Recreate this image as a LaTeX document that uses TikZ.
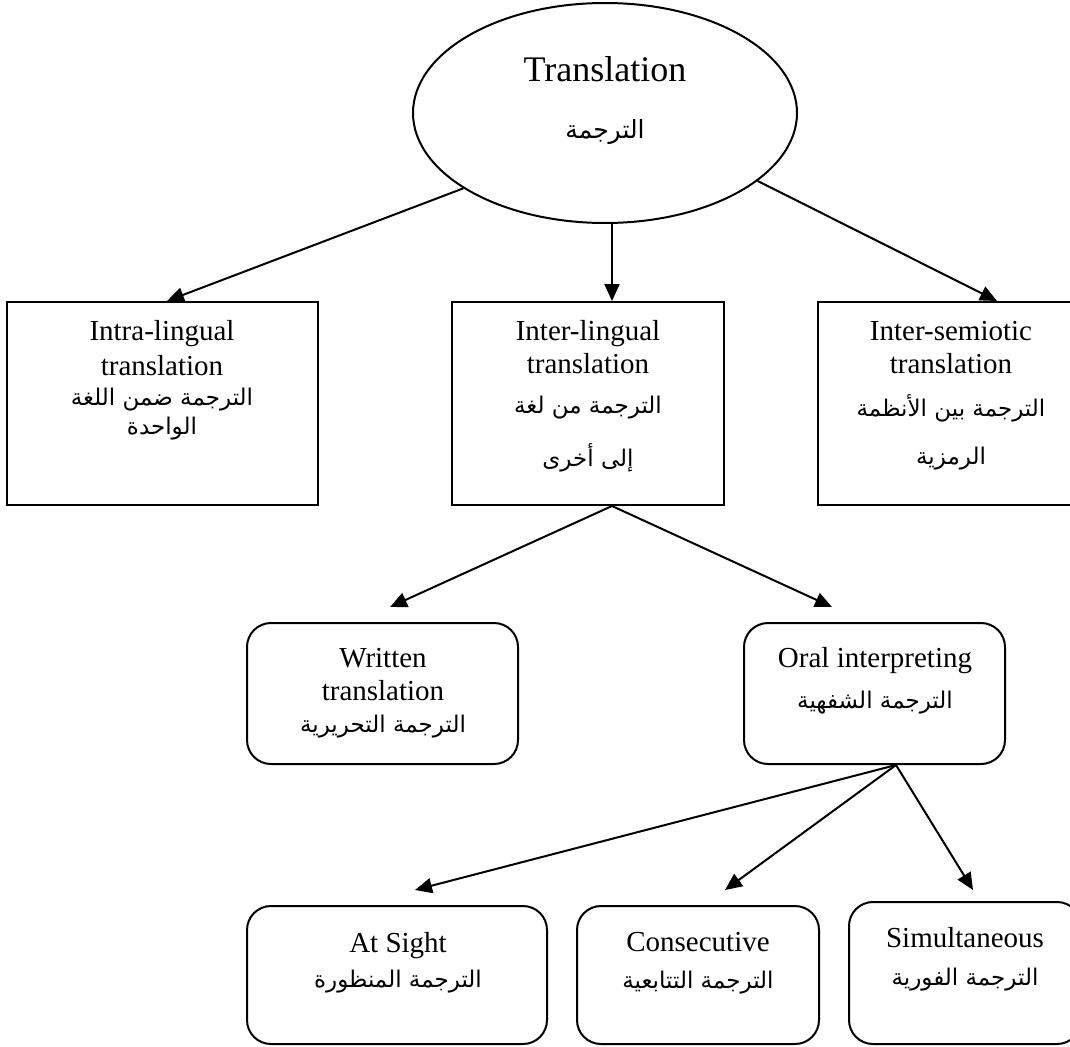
\documentclass[tikz,border=0pt]{standalone}
\usepackage{fontspec}
\setmainfont{Liberation Serif}
\newfontfamily\arabicfont[Script=Arabic]{DejaVu Sans}
\TeXXeTstate=1
\usetikzlibrary{arrows.meta,shapes.geometric}
\begin{document}
\begin{tikzpicture}[x=1pt,y=-1pt,
  box/.style={draw, line width=2pt, inner sep=0pt},
  rbox/.style={box, rounded corners=24pt},
  arr/.style={line width=2pt, -{Triangle[length=17pt,width=15pt]}},
  en/.style={anchor=base, inner sep=0pt, font=\fontsize{29}{33}\selectfont},
  ar/.style={anchor=center, inner sep=0pt, font=\arabicfont\fontsize{23}{28}\selectfont}]
\useasboundingbox (0,0) rectangle (1070,1046);
\clip (0,0) rectangle (1070,1046);
% root
\node[draw, ellipse, line width=2pt, inner sep=0pt, minimum width=384pt, minimum height=220pt] (tr) at (605,113) {};
\node[anchor=base, inner sep=0pt, font=\fontsize{36}{40}\selectfont] (trE) at (605,82) {Translation};
\node[anchor=center, inner sep=0pt, font=\arabicfont\fontsize{25}{30}\selectfont] (trA) at (605,132) {\beginR الترجمة\endR};
% level 1
\node[box, minimum width=311pt, minimum height=203pt] (b1) at (162.5,403.5) {};
\node[box, minimum width=272pt, minimum height=203pt] (b2) at (588,403.5) {};
\node[box, minimum width=266pt, minimum height=203pt] (b3) at (951,403.5) {};
\node[en] (b1e1) at (162,340) {Intra-lingual};
\node[en] (b1e2) at (162,375) {translation};
\node[ar] (b1a1) at (162,400) {\beginR الترجمة ضمن اللغة\endR};
\node[ar] (b1a2) at (162,429) {\beginR الواحدة\endR};
\node[en] (b2e1) at (588,340) {Inter-lingual};
\node[en] (b2e2) at (588,373) {translation};
\node[ar] (b2a1) at (588,408) {\beginR الترجمة من لغة\endR};
\node[ar] (b2a2) at (588,458) {\beginR إلى أخرى\endR};
\node[en] (b3e1) at (951,340) {Inter-semiotic};
\node[en] (b3e2) at (951,373) {translation};
\node[ar] (b3a1) at (951,408) {\beginR الترجمة بين الأنظمة\endR};
\node[ar] (b3a2) at (951,459) {\beginR الرمزية\endR};
% level 2
\node[rbox, minimum width=271pt, minimum height=141pt] (w) at (382.5,693.5) {};
\node[rbox, minimum width=261pt, minimum height=141pt] (o) at (874.5,693.5) {};
\node[en] (we1) at (383,667) {Written};
\node[en] (we2) at (383,700) {translation};
\node[ar] (wa) at (383,727) {\beginR الترجمة التحريرية\endR};
\node[en] (oe) at (875,667) {Oral interpreting};
\node[ar] (oa) at (875,703) {\beginR الترجمة الشفهية\endR};
% level 3
\node[rbox, minimum width=300pt, minimum height=138pt] (s1) at (397,975) {};
\node[rbox, minimum width=242pt, minimum height=138pt] (s2) at (698,975) {};
\node[rbox, minimum width=232pt, minimum height=142pt] (s3) at (965,973) {};
\node[en] (s1e) at (398,952) {At Sight};
\node[ar] (s1a) at (398,982) {\beginR الترجمة المنظورة\endR};
\node[en] (s2e) at (698,951) {Consecutive};
\node[ar] (s2a) at (698,983) {\beginR الترجمة التتابعية\endR};
\node[en] (s3e) at (965,947) {Simultaneous};
\node[ar] (s3a) at (965,980) {\beginR الترجمة الفورية\endR};
% connectors
\draw[arr] (tr.208) -- ([xshift=4.5pt]b1.north);
\draw[arr] ([xshift=7pt]tr.south) -- ([xshift=24pt]b2.north);
\draw[arr] (tr.336) -- ([xshift=46pt]b3.north);
\draw[arr] ([xshift=24pt]b2.south) -- ([xshift=7.5pt,yshift=15pt]w.north);
\draw[arr] ([xshift=24pt]b2.south) -- ([xshift=-42.5pt,yshift=15pt]o.north);
\draw[arr] ([xshift=21.5pt]o.south) -- ([xshift=18pt,yshift=15pt]s1.north);
\draw[arr] ([xshift=21.5pt]o.south) -- ([xshift=27pt,yshift=15pt]s2.north);
\draw[arr] ([xshift=21.5pt]o.south) -- ([xshift=8pt,yshift=11pt]s3.north);
\end{tikzpicture}
\end{document}
